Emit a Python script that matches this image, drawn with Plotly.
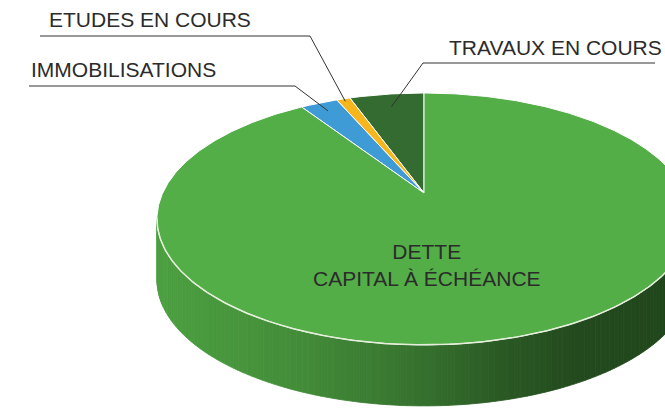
import numpy as np
import plotly.graph_objects as go

# ---- data ----
labels = ["TRAVAUX EN COURS", "ETUDES EN COURS", "IMMOBILISATIONS", "DETTE<br>CAPITAL À ÉCHÉANCE"]
values = [5.5, 1.0, 2.75, 90.75]
colors = ["#336b31", "#f6b61c", "#3e9bd5", "#53ae47"]

# ---- 3D pie projection parameters (pixel space) ----
CX, CY = 424.0, 193.0      # projected centre (apex of slices)
K = 0.206                  # perspective factor
FX, FS = 261.3, 120.6      # horizontal / vertical scale
H = 61.0                   # side height in px


def proj(theta_deg, r=1.0):
    t = np.radians(theta_deg)
    den = 1 + K * r * np.cos(t)
    u = -FX * r * np.sin(t) / den
    v = FS * r * np.cos(t) / den
    return CX + u, CY - v


def hex2rgb(h):
    h = h.lstrip("#")
    return tuple(int(h[i:i + 2], 16) for i in (0, 2, 4))


shade_t = [0.0, 0.27, 0.5, 0.64, 0.78, 1.0]
shade_f = [0.92, 0.81, 0.65, 0.52, 0.43, 0.40]


def shade(col, x):
    t = (x - (CX - 267)) / 534.0
    f = np.interp(t, shade_t, shade_f)
    r, g, b = hex2rgb(col)
    return "rgb(%d,%d,%d)" % (r * f, g * f, b * f)


total = sum(values)
angles = np.cumsum([0] + [v / total * 360 for v in values])

fig = go.Figure()

# visible side range
vis_a = np.degrees(np.arccos(-K))
vis_b = 360 - vis_a

# side strips
for i, col in enumerate(colors):
    a, b = max(angles[i], vis_a), min(angles[i + 1], vis_b)
    if b <= a:
        continue
    n = max(1, int(np.ceil((b - a) / 1.2)))
    ts = np.linspace(a, b, n + 1)
    for j in range(n):
        x0, y0 = proj(ts[j])
        x1, y1 = proj(ts[j + 1])
        c = shade(col, (x0 + x1) / 2)
        fig.add_trace(go.Scatter(
            x=[x0, x1, x1, x0, x0], y=[y0, y1, y1 + H, y0 + H, y0],
            mode="lines", fill="toself", fillcolor=c,
            line=dict(color=c, width=0.8), hoverinfo="skip", showlegend=False))

# top faces
for i, col in enumerate(colors):
    ts = np.linspace(angles[i], angles[i + 1], max(3, int((angles[i + 1] - angles[i]) * 2)))
    xs, ys = proj(ts)
    fig.add_trace(go.Scatter(
        x=np.concatenate([[CX], xs, [CX]]), y=np.concatenate([[CY], ys, [CY]]),
        mode="lines", fill="toself", fillcolor=col,
        line=dict(color="white", width=1), hoverinfo="skip", showlegend=False))

# rim highlight
ts = np.linspace(vis_a, vis_b, 300)
xs, ys = proj(ts)
fig.add_trace(go.Scatter(x=xs, y=ys, mode="lines", line=dict(color="#e4eedb", width=1.5),
                         hoverinfo="skip", showlegend=False))

# leader lines & labels
leader_r = [0.85, 0.97, 0.9]
elbows = [(423, 63), (310, 36), (295, 86)]
ends = [(655, 63), (40, 36), (29, 86)]
text_pos = [(447, 47, "left"), (47, 19, "left"), (29, 69, "left")]
FONT = dict(family="Liberation Sans, Arial", size=21, color="#2b2b2b")
for i in range(3):
    mid = (angles[i] + angles[i + 1]) / 2
    px, py = proj(mid, leader_r[i])
    fig.add_trace(go.Scatter(
        x=[ends[i][0], elbows[i][0], px], y=[ends[i][1], elbows[i][1], py],
        mode="lines", line=dict(color="#333333", width=1), hoverinfo="skip", showlegend=False))
    fig.add_annotation(x=text_pos[i][0], y=text_pos[i][1], text=labels[i], showarrow=False,
                       xanchor=text_pos[i][2], yanchor="middle", font=FONT)

fig.add_annotation(x=427, y=265, text=labels[3], showarrow=False, xanchor="center", yanchor="middle",
                   font=FONT)

fig.update_layout(
    width=665, height=410, margin=dict(l=0, r=0, t=0, b=0),
    paper_bgcolor="white", plot_bgcolor="white",
    xaxis=dict(range=[0, 665], visible=False, fixedrange=True),
    yaxis=dict(range=[410, 0], visible=False, fixedrange=True),
)

fig.write_html(
    "out.html",
    config={"displayModeBar": False, "staticPlot": True},
    post_script="document.body.style.margin='0';document.body.style.overflow='hidden';",
)
